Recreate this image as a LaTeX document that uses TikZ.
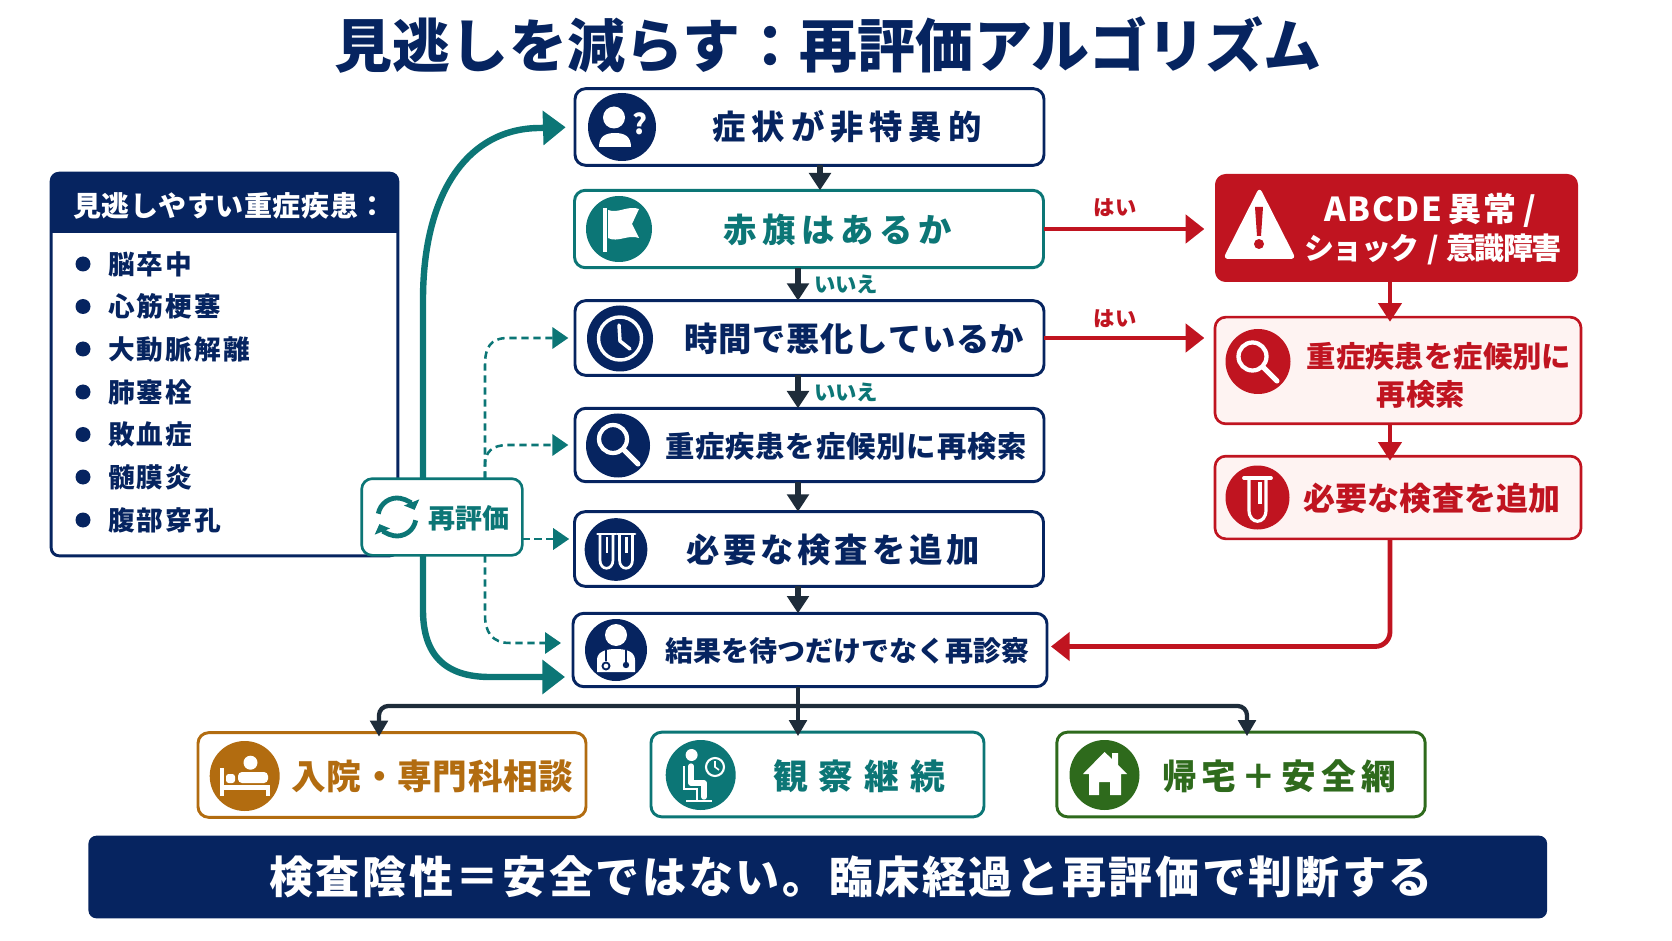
\documentclass[tikz,border=0pt]{standalone}
\usepackage{fontspec}
\setmainfont{Noto Sans CJK JP}
\usetikzlibrary{arrows.meta}
\definecolor{navyc}{RGB}{6,36,96}
\definecolor{tealc}{RGB}{12,118,118}
\definecolor{redc}{RGB}{192,20,32}
\definecolor{pinkc}{RGB}{254,243,242}
\definecolor{orangec}{RGB}{178,108,16}
\definecolor{greenc}{RGB}{46,106,28}
\definecolor{darkc}{RGB}{30,44,58}
\newcommand{\jpt}[2]{\fontsize{#1}{#1}\bfseries\addfontfeature{LetterSpace=#2}}
\tikzset{
  flowbox/.style={draw=navyc,fill=white,line width=2.2pt,rounded corners=8pt,inner sep=0pt,outer sep=0pt,minimum width=351.75pt,minimum height=56pt},
  endbox/.style={fill=white,line width=2.2pt,rounded corners=8pt,inner sep=0pt,outer sep=0pt,minimum height=63.5pt},
  pinkbox/.style={draw=redc,fill=pinkc,line width=2pt,rounded corners=8pt,inner sep=0pt,outer sep=0pt,minimum width=274.5pt},
  iconround/.style={circle,fill=navyc,minimum size=#1,inner sep=0pt,outer sep=0pt},
  txtnode/.style={inner sep=0pt,outer sep=0pt,text=navyc},
  darrow/.style={draw=darkc,line width=4.5pt,-{Triangle[length=13pt,width=16pt]}},
  thinarrow/.style={draw=darkc,line width=3.2pt,rounded corners=7pt,-{Triangle[length=12pt,width=13pt]}},
  redarrow/.style={draw=redc,line width=3.6pt,-{Triangle[length=14pt,width=21pt]}},
  tealthick/.style={draw=tealc,line width=4.8pt,-{Triangle[length=17pt,width=25pt]}},
  tealdash/.style={draw=tealc,line width=1.9pt,dash pattern=on 5.5pt off 3.5pt,-{Triangle[length=12pt,width=16pt]}},
}
\begin{document}
\begin{tikzpicture}[x=0.75pt,y=0.75pt,yscale=-1,xscale=1]
\useasboundingbox (0,0) rectangle (1672,941);

% Title
\node[txtnode,font=\jpt{43.5}{0.5}] (title) at (828,45) {見逃しを減らす：再評価アルゴリズム};

% List panel
\node[draw=navyc,fill=white,line width=2.2pt,rounded corners=6pt,inner sep=0pt,outer sep=0pt,minimum width=260pt,minimum height=287pt] (panel) at (224.5,364.5) {};
\fill[navyc] (51,233) [rounded corners=6pt] -- (51,173) -- (398,173) [sharp corners] -- (398,233) -- cycle;
\node[txtnode,text=white,font=\jpt{21}{2}] (panelhead) at (230,206) {見逃しやすい重症疾患：};
\foreach \ny/\item in {264/脳卒中,306.5/心筋梗塞,349/大動脈解離,392/肺塞栓,434.5/敗血症,477/髄膜炎,520/腹部穿孔}{
  \fill[navyc] (83,\ny) circle (7.5);
  \node[txtnode,anchor=west,font=\jpt{20}{8.7}] at (108,\ny) {\item};
}

% Flow boxes
\node[flowbox,minimum height=57.5pt] (box1) at (809.5,127) {};
\node[flowbox,draw=tealc,minimum height=58pt] (box2) at (809,229) {};
\node[flowbox] (box3) at (809.5,338) {};
\node[flowbox,minimum height=55pt] (box4) at (809.5,445) {};
\node[flowbox] (box5) at (809,549) {};
\node[flowbox,minimum width=355.5pt,minimum height=55pt] (box6) at (810,650) {};

\node[txtnode,font=\jpt{25}{17.8}] (txt1) at (847,127) {症状が非特異的};
\node[txtnode,text=tealc,font=\jpt{25}{17}] (txt2) at (838,230) {赤旗はあるか};
\node[txtnode,font=\jpt{25}{2.4}] (txt3) at (854,339) {時間で悪化しているか};
\node[txtnode,font=\jpt{22}{3}] (txt4) at (846,446) {重症疾患を症候別に再検索};
\node[txtnode,font=\jpt{25}{11.5}] (txt5) at (833,550) {必要な検査を追加};
\node[txtnode,font=\jpt{21}{0}] (txt6) at (847,651) {結果を待つだけでなく再診察};

% Red side
\node[fill=redc,rounded corners=8pt,inner sep=0pt,outer sep=0pt,minimum width=272.25pt,minimum height=81pt] (alert) at (1396.5,228) {};
\node[pinkbox,minimum height=80pt] (pink1) at (1398,370.5) {};
\node[pinkbox,minimum height=62pt] (pink2) at (1398,497.5) {};
\node[txtnode,text=white,font=\jpt{24.75}{5}] (alert1) at (1430,210) {ABCDE\hspace{.2em}異常\hspace{.2em}/};
\node[txtnode,text=white,font=\jpt{22.5}{-5}] (alert2) at (1433,249) {ショック\hspace{.25em}/\hspace{.25em}意識障害};
\node[txtnode,text=redc,font=\jpt{22}{0.3}] (pinka) at (1439,356) {重症疾患を症候別に};
\node[txtnode,text=redc,font=\jpt{22}{0.3}] (pinkb) at (1421,394) {再検索};
\node[txtnode,text=redc,font=\jpt{24}{0.4}] (pinkc) at (1432,498) {必要な検査を追加};

% Outcome boxes
\node[endbox,draw=orangec,minimum width=291pt] (stay) at (392,775) {};
\node[endbox,draw=tealc,minimum width=249.75pt] (watch) at (817.5,774.5) {};
\node[endbox,draw=greenc,minimum width=276.25pt] (home) at (1241,774.5) {};
\node[txtnode,text=orangec,font=\jpt{26}{1.7}] (txtstay) at (432.5,776) {入院・専門科相談};
\node[txtnode,text=tealc,font=\jpt{26}{32}] (txtwatch) at (859,776) {観察継続};
\node[txtnode,text=greenc,font=\jpt{26}{15}] (txthome) at (1279,776) {帰宅＋安全網};

% Banner
\node[fill=navyc,rounded corners=6pt,inner sep=0pt,outer sep=0pt,minimum width=1094pt,minimum height=62pt] (banner) at (817.75,877) {};
\node[txtnode,text=white,font=\jpt{33}{6}] (txtbanner) at (851,877) {検査陰性＝安全ではない。臨床経過と再評価で判断する};

% Helper points
\coordinate (trunk) at (423,300);
\coordinate (dashline) at (485,300);
\coordinate (flowa) at (820,300);
\coordinate (flowb) at (798,300);
\coordinate (busy) at (798,706);

% Re-evaluation lines
\node[draw=tealc,fill=white,line width=2pt,rounded corners=8pt,inner sep=0pt,outer sep=0pt,minimum width=120.5pt,minimum height=57.5pt] (reeval) at (442,517) {};
\draw[tealthick,shorten >=7pt] (reeval.north -| trunk) -- (423,300) .. controls (423,190) and (470,128) .. (540,128) -- (box1.west);
\draw[tealthick,shorten >=6pt] (reeval.south -| trunk) -- (423,610) .. controls (423,655) and (445,677) .. (490,677) -- ([yshift=20.25pt]box6.west);
\draw[tealdash,shorten >=5pt] (reeval.north -| dashline) -- (485,365) .. controls (485,348) and (490,338) .. (508,338) -- (box3.west);
\draw[tealdash,shorten >=5pt] (reeval.north -| dashline) -- (485,465) .. controls (485,452) and (492,445) .. (508,445) -- (box4.west);
\draw[tealdash,shorten >=4pt] (reeval.east |- 522,539) -- (box5.west |- 522,539);
\draw[tealdash,shorten >=9pt] (reeval.south -| dashline) -- (485,615) .. controls (485,632) and (492,643) .. (510,643) -- (box6.west |- 510,643);

% Flow arrows
\draw[darrow] (box1.south -| flowa) -- (box2.north -| flowa);
\draw[darrow] (box2.south -| flowb) -- (box3.north -| flowb);
\draw[darrow] (box3.south -| flowb) -- (box4.north -| flowb);
\draw[darrow] (box4.south -| flowb) -- (box5.north -| flowb);
\draw[darrow] (box5.south -| flowb) -- (box6.north -| flowb);
\node[txtnode,text=tealc,font=\jpt{16}{-3}] (no1) at (846,284) {いいえ};
\node[txtnode,text=tealc,font=\jpt{16}{-3}] (no2) at (846,392) {いいえ};

% Outcome arrows
\draw[thinarrow,rounded corners=0pt] (box6.south -| flowb) -- ([yshift=3pt]watch.north -| flowb);
\draw[thinarrow] (busy) -- (379,706) -- ([yshift=3pt]stay.north -| 379,706);
\draw[thinarrow] (busy) -- (1247,706) -- ([yshift=3pt]home.north -| 1247,706);

% Red arrows
\draw[redarrow,shorten >=8pt] (box2.east) -- (alert.west |- box2.east);
\draw[redarrow,shorten >=8pt] (box3.east) -- (pink1.west |- box3.east);
\node[txtnode,text=redc,font=\jpt{16}{0}] (yes1) at (1115,208) {はい};
\node[txtnode,text=redc,font=\jpt{16}{0}] (yes2) at (1115,319) {はい};
\draw[redarrow,-{Triangle[length=14pt,width=17pt]}] (alert.south -| 1390,300) -- ([yshift=3.5pt]pink1.north -| 1390,300);
\draw[redarrow,-{Triangle[length=14pt,width=17pt]}] (pink1.south -| 1390,300) -- ([yshift=3.5pt]pink2.north -| 1390,300);
\draw[redarrow,rounded corners=11pt,shorten >=3pt] (pink2.south -| 1390,300) -- (1390,646.5) -- (box6.east |- 1390,646.5);

% Person icon
\node[iconround=51pt] (ic1) at (622,127) {};
\fill[white] (614,117.5) circle (11);
\fill[white] (599,147) .. controls (599,136) and (606,133) .. (615,133) .. controls (624,133) and (631,136) .. (631,147) -- cycle;
\node[txtnode,text=white,font=\jpt{21}{0}] (ic1q) at (640,124) {?};
% Flag icon
\node[iconround=49.5pt,fill=tealc] (ic2) at (619,229) {};
\fill[white] (603,208) rectangle (606.5,252);
\fill[white] (608,210) .. controls (618,214) and (628,205) .. (639,209) -- (632,224) -- (639,238) .. controls (628,234) and (618,243) .. (608,238) -- cycle;
% Clock icon
\node[iconround=49.5pt] (ic3) at (620,338.5) {};
\draw[white,line width=2.6pt] (620,338.5) circle (21.5);
\draw[white,line width=2.6pt,line cap=round] (619,325) -- (620,341) -- (630,349);
% Lens icon
\node[iconround=48pt] (ic4) at (618,445.5) {};
\draw[white,line width=3.2pt] (613,439) circle (14);
\draw[white,line width=3.8pt,line cap=round] (624,450) -- (638,464);
% Tubes icon
\node[iconround=47pt] (ic5) at (616,549.5) {};
\foreach \tx in {606.5,626}{
  \draw[white,line width=2pt,line cap=round] (\tx-9,534) -- (\tx+9,534);
  \draw[white,line width=2pt] (\tx-6.5,534) -- (\tx-6.5,560) .. controls (\tx-6.5,571) and (\tx+6.5,571) .. (\tx+6.5,560) -- (\tx+6.5,534);
  \fill[white] (\tx-1,537) rectangle (\tx+1.5,553);
}
% Doctor icon
\node[iconround=46.5pt] (ic6) at (616,650) {};
\fill[white] (616,635) circle (11);
\fill[white] (597,672) -- (597,660) .. controls (597,652) and (605,649) .. (616,649) .. controls (627,649) and (635,652) .. (635,660) -- (635,672) -- cycle;
\draw[navyc,line width=1.4pt] (606,650) -- (606,661);
\draw[navyc,line width=1.4pt] (606,666) circle (3.5);
\draw[navyc,line width=1.4pt] (626,650) -- (626,662);
\fill[navyc] (626,665) circle (3.2);

% Warning icon
\fill[white,rounded corners=4pt] (1259.5,187) -- (1296,259) -- (1223,259) -- cycle;
\fill[redc] (1255,207) -- (1263,207) -- (1261,236) -- (1257,236) -- cycle;
\fill[redc] (1259,244) circle (5);
% Red lens icon
\node[iconround=48.75pt,fill=redc] (ic7) at (1258,361.5) {};
\draw[white,line width=3.2pt] (1252.5,356.5) circle (14);
\draw[white,line width=3.8pt,line cap=round] (1263,367) -- (1277,381);
% Red tube icon
\node[iconround=48pt,fill=redc] (ic8) at (1257.5,497.5) {};
\draw[white,line width=2.8pt,line cap=round] (1244,478) -- (1271,478);
\draw[white,line width=2.4pt] (1249,479) -- (1249,510) .. controls (1249,525) and (1266,525) .. (1266,510) -- (1266,479);
\fill[white] (1258,482) rectangle (1262,504);

% Cycle icon
\node[inner sep=0pt,outer sep=0pt,minimum size=30pt] (ic9) at (397,517) {};
\draw[tealc,line width=3.6pt,-{Triangle[length=6pt,width=12pt]}] (ic9.center) ++(190:19) arc[start angle=190,end angle=338,radius=19];
\draw[tealc,line width=3.6pt,-{Triangle[length=6pt,width=12pt]}] (ic9.center) ++(10:19) arc[start angle=10,end angle=158,radius=19];
\node[txtnode,text=tealc,font=\jpt{20.25}{0}] (txtre) at (469,518) {再評価};

% Bed icon
\node[iconround=52.5pt,fill=orangec] (ic10) at (244.7,776) {};
\fill[white] (220,768) rectangle (224,796);
\fill[white] (224,785) rectangle (270,790);
\fill[white] (266,790) rectangle (270,796);
\fill[white] (250.5,762.7) circle (7);
\fill[white,rounded corners=3pt] (238,772) rectangle (268,783);
\fill[white,rounded corners=2pt] (226,774) rectangle (235,783);
% Desk icon
\node[iconround=52.5pt,fill=tealc] (ic11) at (700.7,775) {};
\fill[white] (691.6,755) circle (6);
\draw[white,line width=4pt,line cap=round,line join=round] (691,766) -- (691,783) -- (704,783) -- (704,797);
\draw[white,line width=1.8pt] (684,766) -- (684,789) -- (697,789) -- (697,801);
\draw[white,line width=1.8pt] (686,801) -- (712,801);
\draw[white,line width=1.6pt] (715,767) circle (9);
\draw[white,line width=1.2pt] (715,761) -- (715,767) -- (719,770);
% House icon
\node[iconround=52.5pt,fill=greenc] (ic12) at (1104.5,775) {};
\fill[white] (1104.5,752) -- (1112,759) -- (1112,753) -- (1118,753) -- (1118,765) -- (1127,774) -- (1121,774) -- (1121,795) -- (1110,795) -- (1110,782) -- (1099,782) -- (1099,795) -- (1089,795) -- (1089,774) -- (1083,774) -- cycle;

\end{tikzpicture}
\end{document}
